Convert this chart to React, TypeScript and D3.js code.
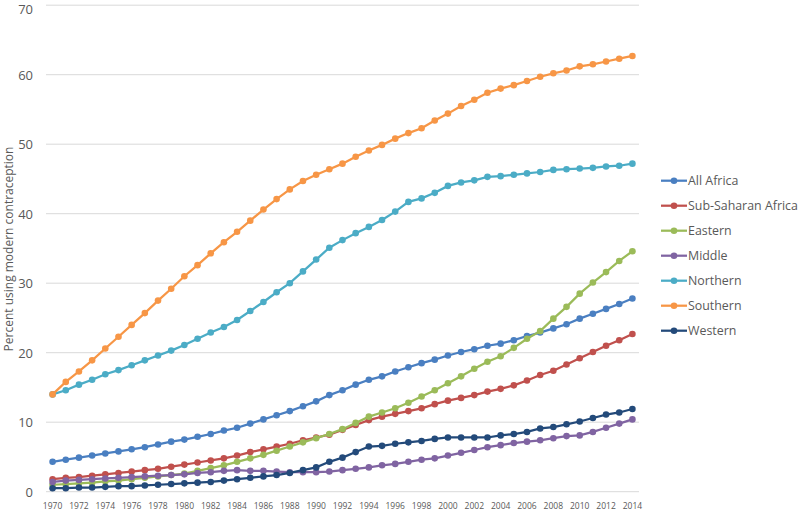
import React from 'react';
import * as d3 from 'd3';

const years = d3.range(1970, 2015);

const allAfrica = [4.3, 4.6, 4.9, 5.2, 5.5, 5.8, 6.1, 6.4, 6.8, 7.2, 7.5, 7.9, 8.3, 8.8, 9.2, 9.8, 10.4, 11.0, 11.6, 12.3, 13.0, 13.9, 14.6, 15.4, 16.1, 16.6, 17.3, 17.9, 18.5, 19.0, 19.6, 20.1, 20.5, 21.0, 21.3, 21.8, 22.4, 22.9, 23.5, 24.1, 24.9, 25.6, 26.3, 27.0, 27.8];
const subSaharan = [1.8, 2.0, 2.1, 2.3, 2.5, 2.7, 2.9, 3.1, 3.3, 3.6, 3.9, 4.2, 4.5, 4.8, 5.2, 5.7, 6.1, 6.5, 6.9, 7.4, 7.8, 8.2, 8.9, 9.6, 10.3, 10.8, 11.2, 11.6, 12.0, 12.6, 13.1, 13.5, 13.9, 14.4, 14.8, 15.3, 16.0, 16.8, 17.4, 18.3, 19.2, 20.1, 21.0, 21.8, 22.7];
const eastern = [1.0, 1.1, 1.2, 1.3, 1.5, 1.6, 1.8, 2.0, 2.2, 2.4, 2.6, 3.0, 3.4, 3.8, 4.3, 4.8, 5.3, 5.9, 6.5, 7.1, 7.7, 8.3, 9.0, 9.9, 10.8, 11.4, 12.0, 12.8, 13.7, 14.6, 15.6, 16.6, 17.7, 18.7, 19.5, 20.7, 22.0, 23.1, 24.9, 26.6, 28.5, 30.1, 31.6, 33.2, 34.6];
const middle = [1.4, 1.6, 1.7, 1.8, 1.9, 2.0, 2.1, 2.2, 2.3, 2.4, 2.5, 2.7, 2.8, 3.0, 3.1, 3.0, 3.0, 2.9, 2.8, 2.8, 2.8, 2.9, 3.1, 3.3, 3.5, 3.8, 4.0, 4.3, 4.6, 4.8, 5.2, 5.6, 6.0, 6.4, 6.7, 7.0, 7.2, 7.4, 7.7, 8.0, 8.1, 8.6, 9.2, 9.8, 10.4];
const northern = [14.0, 14.6, 15.4, 16.1, 16.9, 17.5, 18.2, 18.9, 19.6, 20.3, 21.1, 22.0, 22.9, 23.7, 24.7, 26.0, 27.3, 28.7, 30.0, 31.7, 33.4, 35.1, 36.2, 37.2, 38.1, 39.1, 40.3, 41.7, 42.2, 43.0, 44.0, 44.5, 44.8, 45.3, 45.4, 45.6, 45.8, 46.0, 46.3, 46.4, 46.5, 46.6, 46.8, 46.9, 47.2];
const southern = [14.0, 15.8, 17.3, 18.9, 20.6, 22.3, 24.0, 25.7, 27.5, 29.2, 31.0, 32.6, 34.3, 35.9, 37.4, 39.0, 40.6, 42.1, 43.5, 44.7, 45.6, 46.4, 47.2, 48.2, 49.1, 49.9, 50.8, 51.6, 52.3, 53.4, 54.4, 55.5, 56.4, 57.4, 58.0, 58.5, 59.1, 59.7, 60.2, 60.6, 61.2, 61.5, 61.9, 62.3, 62.7];
const western = [0.5, 0.5, 0.6, 0.6, 0.7, 0.8, 0.8, 0.9, 1.0, 1.1, 1.2, 1.3, 1.4, 1.6, 1.8, 2.0, 2.2, 2.4, 2.7, 3.1, 3.5, 4.3, 4.9, 5.7, 6.5, 6.6, 6.9, 7.1, 7.3, 7.6, 7.8, 7.8, 7.8, 7.8, 8.1, 8.3, 8.6, 9.1, 9.3, 9.7, 10.1, 10.6, 11.1, 11.4, 11.9];

const seriesNames = ['All Africa', 'Sub-Saharan Africa', 'Eastern', 'Middle', 'Northern', 'Southern', 'Western'];
const seriesValues = [allAfrica, subSaharan, eastern, middle, northern, southern, western];
const seriesColors = ['#4a7fc1', '#c0504d', '#9bbb59', '#8064a2', '#4bacc6', '#f79646', '#234a7a'];
const yTicks = [0, 10, 20, 30, 40, 50, 60, 70];

const font = '"Open Sans", sans-serif';
const textColor = '#595959';

export default function App() {
  const width = 800;
  const height = 510;

  const x = d3.scalePoint<number>().domain(years).range([46, 639]).padding(0.5);
  const y = d3.scaleLinear().domain([0, 70]).range([491.7, 5.2]);

  const line = d3
    .line<number>()
    .x((_, i) => x(years[i]) as number)
    .y((d) => y(d));

  return (
    <svg
      width={width}
      height={height}
      style={{ position: 'absolute', left: 0, top: 0, display: 'block', background: '#fff' }}
    >
      {/* gridlines + y labels */}
      {yTicks.map((t) => (
        <g key={t}>
          <line x1={46} x2={639} y1={y(t)} y2={y(t)} stroke="#d9d9d9" strokeWidth={1} />
          <text
            x={33}
            y={Math.max(y(t), 9)}
            textAnchor="end"
            dominantBaseline="central"
            fontFamily={font}
            fontSize={13}
            fill={textColor}
          >
            {t}
          </text>
        </g>
      ))}

      {/* x tick labels */}
      {years
        .filter((yr) => yr % 2 === 0)
        .map((yr) => (
          <text
            key={yr}
            x={x(yr)}
            y={508.5}
            textAnchor="middle"
            fontFamily={font}
            fontSize={8.5}
            fill={textColor}
          >
            {yr}
          </text>
        ))}

      <text
        transform={`translate(12.5, 249) rotate(-90)`}
        textAnchor="middle"
        fontFamily={font}
        fontSize={12}
        fill={textColor}
      >
        Percent using modern contraception
      </text>

      {/* series */}
      {seriesValues.map((vals, s) => (
        <g key={seriesNames[s]}>
          <path d={line(vals) || ''} fill="none" stroke={seriesColors[s]} strokeWidth={2.25} />
          {vals.map((v, i) => (
            <circle key={i} cx={x(years[i])} cy={y(v)} r={3.3} fill={seriesColors[s]} />
          ))}
        </g>
      ))}

      {/* legend */}
      {seriesNames.map((name, s) => {
        const ly = 180.7 + s * 25;
        return (
          <g key={name}>
            <line x1={661} x2={687} y1={ly} y2={ly} stroke={seriesColors[s]} strokeWidth={2.25} />
            <circle cx={674} cy={ly} r={3.3} fill={seriesColors[s]} />
            <text
              x={688}
              y={ly}
              dominantBaseline="central"
              fontFamily={font}
              fontSize={12.4}
              fill={textColor}
            >
              {name}
            </text>
          </g>
        );
      })}
    </svg>
  );
}
